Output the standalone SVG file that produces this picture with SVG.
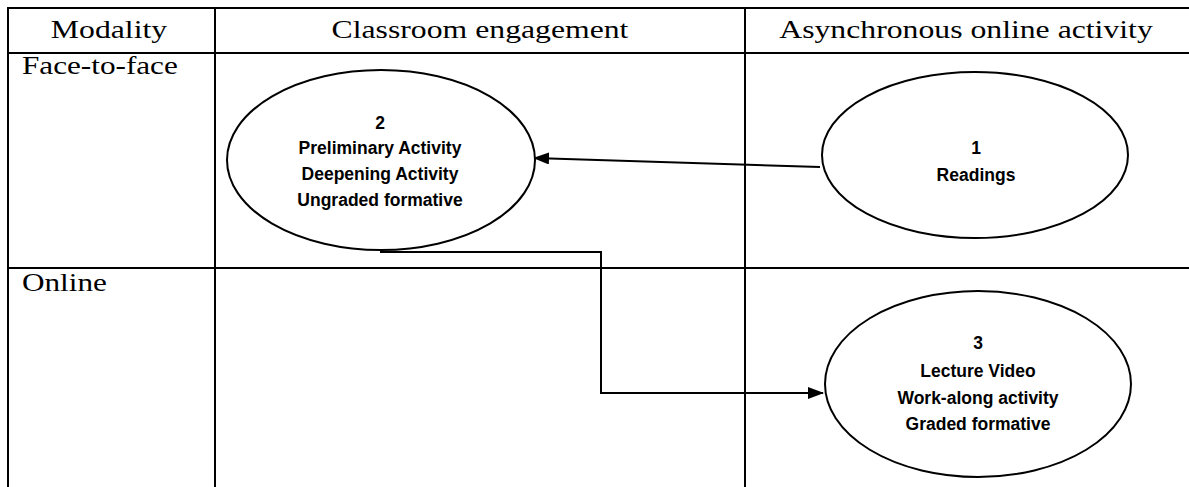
<svg xmlns="http://www.w3.org/2000/svg" width="1189" height="487" viewBox="0 0 1189 487">
<style>
.grid{stroke:#000;stroke-width:2;fill:none}
.hdr{font-family:"Liberation Serif","Times New Roman",serif;font-size:26px;fill:#000}
.mid{text-anchor:middle}
.node ellipse{fill:#fff;stroke:#000;stroke-width:2}
.node text{font-family:"Liberation Sans",Arial,sans-serif;font-weight:bold;font-size:17.5px;fill:#000;text-anchor:middle}
.conn{stroke:#000;stroke-width:2;fill:none}
</style>
<defs>
<marker id="arr" markerWidth="16" markerHeight="12" refX="15" refY="6" orient="auto" markerUnits="userSpaceOnUse">
<path d="M0,0 L16,6 L0,12 Z" fill="#000"/>
</marker>
</defs>
<rect width="1189" height="487" fill="#fff"/>
<g id="table">
<path class="grid" d="M7,8 H1189 M8,8 V487 M7,53 H1189 M7,268 H1189 M215,8 V487 M745,8 V487"/>
<text class="hdr mid" transform="translate(109,38) scale(1.22,1)">Modality</text>
<text class="hdr mid" transform="translate(480,38) scale(1.22,1)">Classroom engagement</text>
<text class="hdr mid" transform="translate(966,38) scale(1.22,1)">Asynchronous online activity</text>
<text class="hdr" transform="translate(22,74) scale(1.2,1)">Face-to-face</text>
<text class="hdr" transform="translate(22,291) scale(1.2,1)">Online</text>
</g>
<g id="connectors">
<path class="conn" d="M820,167 L534,158" marker-end="url(#arr)"/>
<path class="conn" d="M380,252 H601 V393 H823" marker-end="url(#arr)"/>
</g>
<g id="node2" class="node">
<ellipse cx="381" cy="160" rx="154" ry="90"/>
<text x="380" y="129">2</text>
<text x="380" y="154">Preliminary Activity</text>
<text x="380" y="180">Deepening Activity</text>
<text x="380" y="206">Ungraded formative</text>
</g>
<g id="node1" class="node">
<ellipse cx="975" cy="155" rx="153" ry="83"/>
<text x="976" y="154">1</text>
<text x="976" y="181">Readings</text>
</g>
<g id="node3" class="node">
<ellipse cx="978" cy="384" rx="153" ry="93"/>
<text x="978" y="349">3</text>
<text x="978" y="377">Lecture Video</text>
<text x="978" y="404">Work-along activity</text>
<text x="978" y="430">Graded formative</text>
</g>
</svg>
